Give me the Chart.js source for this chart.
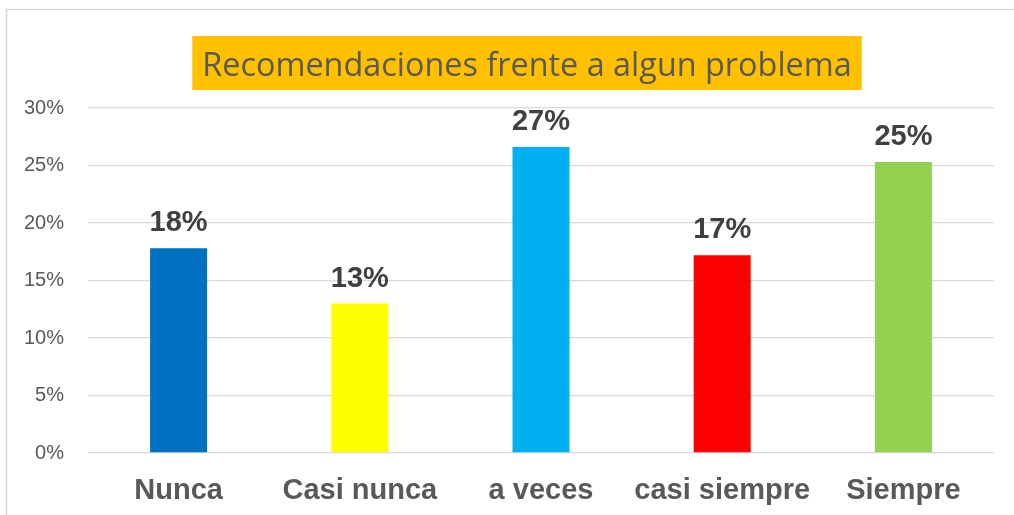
<!DOCTYPE html>
<html>
<head>
<meta charset="utf-8">
<script src="https://cdn.jsdelivr.net/npm/chart.js@4"></script>
<style>
  html, body { margin: 0; padding: 0; background: #fff; }
  #wrap { width: 1014px; height: 515px; position: relative; }
</style>
</head>
<body>
<div id="wrap"><canvas id="chart"></canvas></div>
<script>
// datos del gráfico
const categorias = ['Nunca', 'Casi nunca', 'a veces', 'casi siempre', 'Siempre'];
const porcentajes = [17.8, 13.0, 26.6, 17.2, 25.3];
const colores = ['#0070C0', '#FFFF00', '#00B0F0', '#FF0000', '#92D050'];
const ticksY = [0, 5, 10, 15, 20, 25, 30];
const titulo = 'Recomendaciones frente a algun problema';

const GRIS = '#595959';
const ARIAL = '"Liberation Sans", Arial, sans-serif';

// marco exterior y título con fondo naranja
const marcoPlugin = {
    id: 'marco',
    beforeDraw(chart) {
        const ctx = chart.ctx;
        ctx.save();
        ctx.fillStyle = '#fff';
        ctx.fillRect(0, 0, chart.width, chart.height);
        ctx.strokeStyle = '#d9d9d9';
        ctx.lineWidth = 1.5;
        ctx.strokeRect(6.5, 9.5, 1200, 700);

        ctx.font = '32.4px "Open Sans", sans-serif';
        const w = ctx.measureText(titulo).width;
        const cx = 527;
        ctx.fillStyle = '#FFC000';
        ctx.fillRect(cx - w / 2 - 10, 36, w + 20, 54);
        ctx.fillStyle = GRIS;
        ctx.textAlign = 'center';
        ctx.textBaseline = 'alphabetic';
        ctx.fillText(titulo, cx, 76);
        ctx.restore();
    }
};

// etiquetas de valor encima de cada barra
const etiquetasPlugin = {
    id: 'etiquetas',
    afterDatasetsDraw(chart) {
        const ctx = chart.ctx;
        const meta = chart.getDatasetMeta(0);
        ctx.save();
        ctx.font = 'bold 29px ' + ARIAL;
        ctx.fillStyle = '#404040';
        ctx.textAlign = 'center';
        ctx.textBaseline = 'alphabetic';
        meta.data.forEach((bar, i) => {
            ctx.fillText(Math.round(porcentajes[i]) + '%', bar.x, bar.y - 17);
        });
        ctx.restore();
    }
};

const ctx = document.getElementById('chart').getContext('2d');
new Chart(ctx, {
    type: 'bar',
    data: {
        labels: categorias,
        datasets: [{
            data: porcentajes,
            backgroundColor: colores,
            borderWidth: 0,
            categoryPercentage: 1,
            barPercentage: 0.3145
        }]
    },
    options: {
        responsive: true,
        maintainAspectRatio: false,
        animation: false,
        layout: { padding: { left: 0, right: 20, top: 108, bottom: 0 } },
        plugins: {
            legend: { display: false },
            tooltip: { enabled: false },
            title: { display: false }
        },
        scales: {
            x: {
                afterFit(scale) { scale.height = 62; },
                grid: { display: false },
                border: { display: false },
                ticks: {
                    color: GRIS,
                    padding: 13,
                    maxRotation: 0,
                    autoSkip: false,
                    font: { family: ARIAL, size: 29, weight: 'bold' }
                }
            },
            y: {
                min: 0,
                max: 30,
                afterFit(scale) { scale.width = 88; },
                afterBuildTicks(scale) { scale.ticks = ticksY.map(v => ({ value: v })); },
                grid: { color: '#d9d9d9', lineWidth: 1.3, drawTicks: false },
                border: { display: false },
                ticks: {
                    color: GRIS,
                    padding: 24,
                    font: { family: ARIAL, size: 20 },
                    callback: v => v + '%'
                }
            }
        }
    },
    plugins: [marcoPlugin, etiquetasPlugin]
});
</script>
</body>
</html>
